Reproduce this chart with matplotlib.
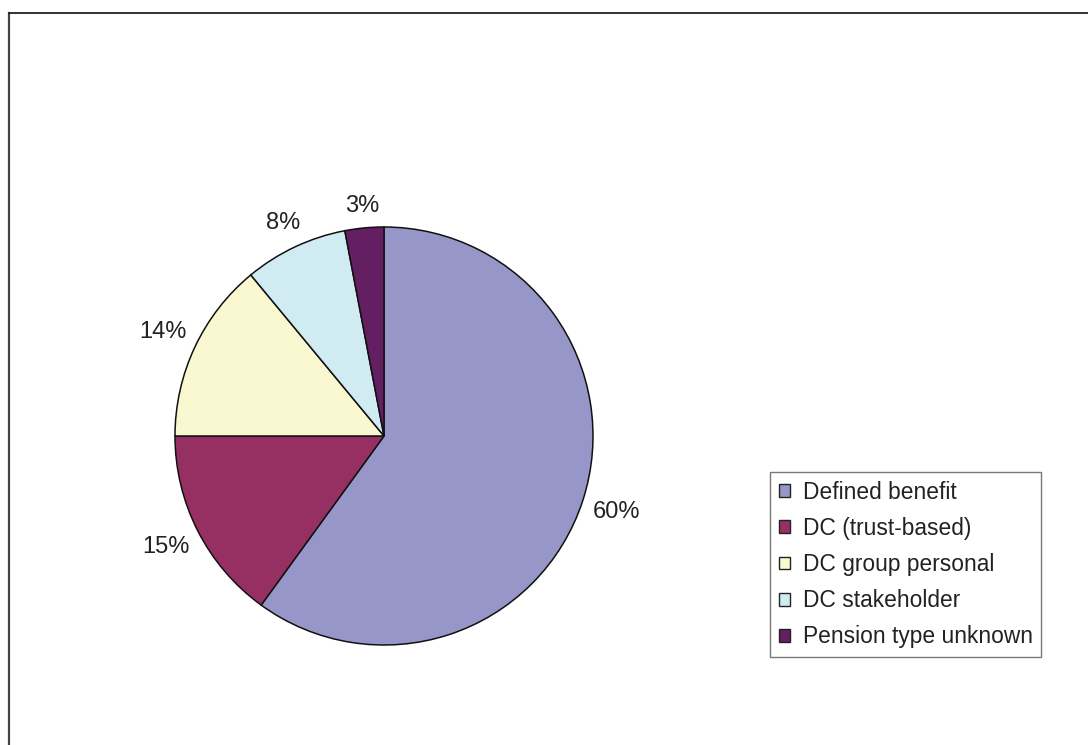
import matplotlib
matplotlib.use('Agg')
import matplotlib.pyplot as plt
from matplotlib.lines import Line2D
import numpy as np

# pension type shares (%)
categories = ['Defined benefit', 'DC (trust-based)', 'DC group personal',
              'DC stakeholder', 'Pension type unknown']
shares = [60, 15, 14, 8, 3]
colours = ['#9696C8', '#973062', '#FAF8D0', '#D0ECF2', '#641E62']

plt.rcParams['font.family'] = ['Liberation Sans', 'DejaVu Sans']

W, H = 1088, 745
fig = plt.figure(figsize=(W / 100, H / 100), dpi=100)

# open frame around the chart (left and top edges only visible)
fig.add_artist(Line2D([8.5 / W, 8.5 / W], [0, 1 - 12.5 / H], transform=fig.transFigure,
                      color='#444444', lw=1.6))
fig.add_artist(Line2D([8.5 / W, 1], [1 - 12.5 / H, 1 - 12.5 / H], transform=fig.transFigure,
                      color='#222222', lw=1.3))

# pie axes: centre (384, 436), radius ~209 px
cx, cy, r = 384, 436, 209
ax = fig.add_axes([(cx - r) / W, (H - cy - r) / H, 2 * r / W, 2 * r / H])

wedges, texts, autotexts = ax.pie(
    shares, colors=colours, startangle=90, counterclock=False,
    autopct='%1.0f%%', pctdistance=1.15,
    wedgeprops=dict(edgecolor='#111111', linewidth=1.1),
    textprops=dict(fontsize=17, color='#222222'))
ax.set_xlim(-1, 1)
ax.set_ylim(-1, 1)

# push each label out so its box sits a fixed gap outside the rim (Excel style)
fig.canvas.draw()
renderer = fig.canvas.get_renderer()
gap = 9.5
for w, t in zip(wedges, autotexts):
    ang = np.deg2rad((w.theta1 + w.theta2) / 2)
    bb = t.get_window_extent(renderer)
    half = abs(np.cos(ang)) * bb.width / 2 + abs(np.sin(ang)) * bb.height / 2
    d = (r + gap + half) / r
    t.set_position((d * np.cos(ang), d * np.sin(ang)))

leg = fig.legend(wedges, categories, loc='upper left',
                 bbox_to_anchor=(770 / W, 1 - 472 / H),
                 fontsize=16.4, frameon=True, fancybox=False,
                 handlelength=0.49, handleheight=0.49, handletextpad=0.56,
                 labelspacing=0.58, borderpad=0.38, borderaxespad=0)
leg.get_frame().set_edgecolor('#555555')
leg.get_frame().set_linewidth(1.0)
for t in leg.get_texts():
    t.set_color('#222222')
for p in leg.get_patches():
    p.set_edgecolor('#222222')
    p.set_linewidth(1.0)

fig.savefig('out.png', dpi=100)
